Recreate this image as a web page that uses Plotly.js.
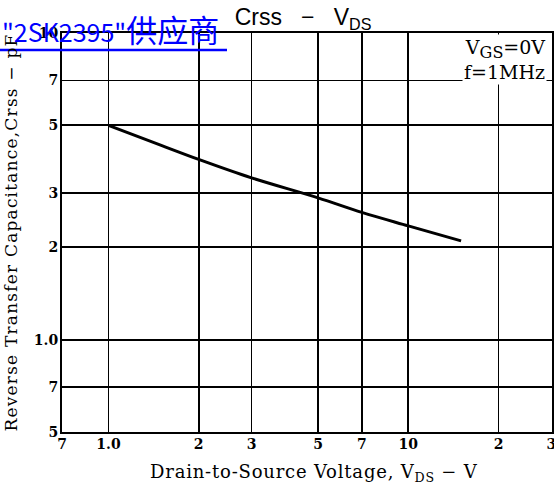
<!DOCTYPE html>
<html>
<head>
<meta charset="utf-8">
<script src="https://cdn.plot.ly/plotly-3.0.1.min.js"></script>
<style>
html,body{margin:0;padding:0;background:#fff;}
#chart{width:554px;height:488px;}
#chart .ytitle{letter-spacing:1.2px;}
</style>
</head>
<body>
<div id="chart"></div>
<script>
// Data
const vds = [1.0, 1.5, 2, 3, 5, 7, 10, 15];
const crss = [5.0, 4.3, 3.87, 3.37, 2.9, 2.6, 2.35, 2.1];

const xTickVals = [0.7, 1, 2, 3, 5, 7, 10, 20, 30];
const xTickText = ['7', '1.0', '2', '3', '5', '7', '10', '2', '3'];
const yTickVals = [0.5, 0.7, 1, 2, 3, 5, 7, 10];
const yTickText = ['5', '7', '1.0', '2', '3', '5', '7', '10'];

const serif = 'DejaVu Serif, Liberation Serif, serif';

const trace = {
  x: vds, y: crss, type: 'scatter', mode: 'lines',
  line: {color: '#000', width: 3, shape: 'spline'},
  hoverinfo: 'skip', showlegend: false
};

const axisCommon = {
  type: 'log', showline: true, mirror: true, linecolor: '#000', linewidth: 2,
  showgrid: true, gridcolor: '#000', gridwidth: 1.8, zeroline: false,
  ticks: '', tickmode: 'array', ticklabeloverflow: 'allow',
  tickfont: {family: serif, size: 14, color: '#000', weight: 'bold'}
};

const layout = {
  width: 554, height: 488,
  margin: {l: 62, r: 2, t: 33, b: 56},
  paper_bgcolor: '#fff', plot_bgcolor: '#fff',
  title: {
    text: 'Crss   −   V<sub>DS</sub>',
    font: {family: 'Liberation Sans, Arial, sans-serif', size: 23, color: '#000'},
    xref: 'container', yref: 'container',
    x: 303/554, xanchor: 'center', y: 1 - 17/488, yanchor: 'middle'
  },
  xaxis: Object.assign({}, axisCommon, {
    range: [Math.log10(0.7), Math.log10(30.15)],
    tickvals: xTickVals, ticktext: xTickText, ticklabelstandoff: -2
  }),
  yaxis: Object.assign({}, axisCommon, {
    range: [Math.log10(0.5), 1],
    tickvals: yTickVals, ticktext: yTickText, ticklabelstandoff: -1,
    title: {text: 'Reverse Transfer Capacitance,Crss − pF',
            font: {family: serif, size: 17, color: '#000'}, standoff: 12}
  }),
  annotations: [
    {
      xref: 'paper', yref: 'paper', x: (314 - 62) / 490, y: (432 - 473) / 399,
      xanchor: 'center', yanchor: 'middle', showarrow: false,
      text: '<span style="letter-spacing:0.8px">Drain-to-Source Voltage, V<sub>DS</sub> − V</span>',
      font: {family: serif, size: 18, color: '#000'}
    },
    {
      xref: 'paper', yref: 'paper', x: 0.99, y: 0.998, xanchor: 'right', yanchor: 'top',
      text: 'V<sub><span style="font-size:16px">GS</span></sub>=0V<br>f=1MHz', align: 'right', showarrow: false,
      bgcolor: '#fff', borderpad: 1,
      font: {family: serif, size: 19, color: '#000'}
    },
    {
      xref: 'paper', yref: 'paper', x: -62/490, y: (432 - 28) / 399, xanchor: 'left', yanchor: 'middle',
      text: '<span style="font-size:25px">"2SK2395"</span>供应商', showarrow: false,
      font: {family: 'Noto Sans CJK SC, Liberation Sans, sans-serif', size: 31, color: '#0000ff'}
    }
  ],
  shapes: [
    {type: 'line', xref: 'paper', yref: 'paper', x0: -62/490, x1: 165/490,
     y0: (432 - 50) / 399, y1: (432 - 50) / 399, line: {color: '#0000ff', width: 2.5}}
  ]
};

Plotly.newPlot('chart', [trace], layout, {staticPlot: true, displayModeBar: false});
</script>
</body>
</html>
